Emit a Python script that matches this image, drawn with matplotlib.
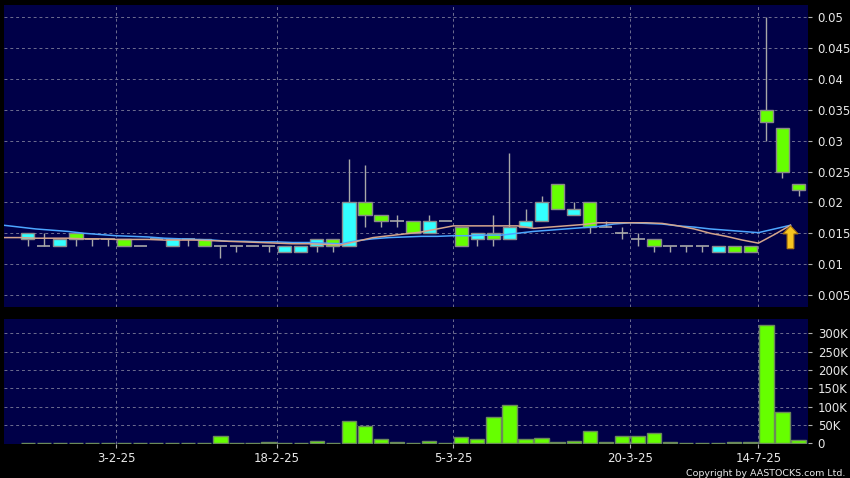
import matplotlib
matplotlib.use("Agg")
import matplotlib.pyplot as plt
import numpy as np

# daily candles (price in HKD), index 0 = first visible day
opens = [0.014, 0.013, 0.013, 0.015, 0.014, 0.014, 0.014, 0.013, 0.014, 0.013,
         0.014, 0.014, 0.013, 0.013, 0.013, 0.013, 0.012, 0.012, 0.013, 0.014,
         0.013, 0.020, 0.018, 0.017, 0.017, 0.015, 0.017, 0.016, 0.014, 0.015,
         0.014, 0.016, 0.017, 0.023, 0.018, 0.020, 0.016, 0.015, 0.014, 0.014,
         0.013, 0.013, 0.013, 0.012, 0.013, 0.013, 0.035, 0.032, 0.023]
closes = [0.015, 0.013, 0.014, 0.014, 0.014, 0.014, 0.013, 0.013, 0.014, 0.014,
          0.014, 0.013, 0.013, 0.013, 0.013, 0.013, 0.013, 0.013, 0.014, 0.013,
          0.020, 0.018, 0.017, 0.017, 0.015, 0.017, 0.017, 0.013, 0.015, 0.014,
          0.016, 0.017, 0.020, 0.019, 0.019, 0.016, 0.016, 0.015, 0.014, 0.013,
          0.013, 0.013, 0.013, 0.013, 0.012, 0.012, 0.033, 0.025, 0.022]
highs = [0.015, 0.015, 0.014, 0.015, 0.014, 0.014, 0.014, 0.013, 0.014, 0.014,
         0.014, 0.014, 0.013, 0.013, 0.013, 0.013, 0.013, 0.013, 0.014, 0.014,
         0.027, 0.026, 0.018, 0.018, 0.017, 0.018, 0.017, 0.016, 0.015, 0.018,
         0.028, 0.019, 0.021, 0.023, 0.020, 0.020, 0.017, 0.016, 0.015, 0.014,
         0.013, 0.013, 0.013, 0.013, 0.013, 0.013, 0.050, 0.032, 0.023]
lows = [0.013, 0.013, 0.013, 0.013, 0.013, 0.013, 0.013, 0.013, 0.014, 0.013,
        0.013, 0.013, 0.011, 0.012, 0.013, 0.012, 0.012, 0.012, 0.012, 0.012,
        0.013, 0.016, 0.016, 0.016, 0.015, 0.015, 0.017, 0.013, 0.013, 0.013,
        0.014, 0.016, 0.017, 0.019, 0.018, 0.015, 0.016, 0.014, 0.013, 0.012,
        0.012, 0.012, 0.012, 0.012, 0.012, 0.012, 0.030, 0.024, 0.021]
volumes = [1000, 1000, 1000, 1000, 500, 500, 1000, 500, 0, 1000,
           1000, 1000, 20000, 1000, 500, 3000, 1000, 500, 6000, 1000,
           61000, 47000, 11000, 3000, 2000, 6000, 0, 18000, 11000, 72000,
           104000, 12500, 14500, 3000, 8000, 35000, 5000, 19000, 19000, 28000,
           5000, 1000, 1000, 2000, 3000, 5000, 323000, 84500, 9000]

# moving averages as drawn (one point per day boundary, starting two days before index 0)
ma_short = [0.0143, 0.0143, 0.0142, 0.0142, 0.0142, 0.0141, 0.0141, 0.0140, 0.0140, 0.0140,
            0.0139, 0.0139, 0.0139, 0.0138, 0.0137, 0.0136, 0.0135, 0.0134, 0.0133, 0.0133,
            0.0132, 0.0131, 0.0137, 0.0143, 0.0146, 0.0149, 0.0152, 0.0157, 0.0162, 0.0162,
            0.0162, 0.0162, 0.0162, 0.0158, 0.0160, 0.0162, 0.0164, 0.0167, 0.0167, 0.0167,
            0.0167, 0.0166, 0.0162, 0.0157, 0.0150, 0.0145, 0.0139, 0.0134, 0.0148, 0.0163]
ma_long = [0.0163, 0.0160, 0.0157, 0.0155, 0.0153, 0.0150, 0.0148, 0.0146, 0.0145, 0.0144,
           0.0142, 0.0141, 0.0140, 0.0139, 0.0137, 0.0137, 0.0136, 0.0136, 0.0135, 0.0135,
           0.0134, 0.0133, 0.0138, 0.0141, 0.0143, 0.0144, 0.0145, 0.0145, 0.0146, 0.0146,
           0.0147, 0.0147, 0.0150, 0.0153, 0.0155, 0.0157, 0.0159, 0.0161, 0.0165, 0.0167,
           0.0166, 0.0165, 0.0162, 0.0160, 0.0157, 0.0155, 0.0153, 0.0151, 0.0157, 0.0163]

date_index = [6, 16, 27, 38, 46]
date_labels = ["3-2-25", "18-2-25", "5-3-25", "20-3-25", "14-7-25"]

price_ticks = [0.005, 0.01, 0.015, 0.02, 0.025, 0.03, 0.035, 0.04, 0.045, 0.05]
price_labels = ["0.005", "0.01", "0.015", "0.02", "0.025", "0.03", "0.035", "0.04", "0.045", "0.05"]
vol_ticks = [0, 50000, 100000, 150000, 200000, 250000, 300000]
vol_labels = ["0", "50K", "100K", "150K", "200K", "250K", "300K"]

# colours
BG = "#000000"
PANEL = "#000048"
UP = "#33FFFF"
DOWN = "#66FF00"
EDGE = "#8a8a8a"
GRID = "#6e6e90"
TXT = "#e8e8e8"

x = np.arange(len(opens))
o = np.array(opens)
c = np.array(closes)

fig = plt.figure(figsize=(8.5, 4.78), dpi=100, facecolor=BG)
ax = fig.add_axes([4 / 850, 1 - 306.7 / 478, 804 / 850, 301.7 / 478])
axv = fig.add_axes([4 / 850, 1 - 444 / 478, 804 / 850, 124.7 / 478])

for a in (ax, axv):
    a.set_facecolor(PANEL)
    for s in a.spines.values():
        s.set_visible(False)
    a.set_xlim(-1.476, 48.59)
    for d in date_index:
        a.axvline(d - 0.5, color=GRID, lw=0.7, ls=(0, (3, 3)), zorder=0)
    a.yaxis.tick_right()
    a.tick_params(axis="y", colors="#b0b0b0", labelcolor=TXT, length=3, width=0.8,
                  pad=4, labelsize=8.5)

# price panel
ax.set_ylim(0.0031, 0.05199)
for p in price_ticks:
    ax.axhline(p, color=GRID, lw=0.7, ls=(0, (3, 3)), zorder=0)
ax.set_yticks(price_ticks)
ax.set_yticklabels(price_labels)
ax.set_xticks([])

# wicks
ax.vlines(x, lows, highs, color="#a8a8a8", lw=1, zorder=2)
# bodies
body = c != o
colors = np.where(c > o, UP, DOWN)
ax.bar(x[body], np.abs(c - o)[body], bottom=np.minimum(o, c)[body], width=0.83,
       color=colors[body], edgecolor=EDGE, linewidth=1, zorder=3)
# doji days
doji = ~body
ax.hlines(o[doji], x[doji] - 0.41, x[doji] + 0.41, color="#a8a8a8", lw=1.2, zorder=3)

# moving averages
ma_x = np.arange(len(ma_short)) - 1.5
ax.plot(ma_x, ma_long, color="#4da6ff", lw=1.1, zorder=4)
ax.plot(ma_x, ma_short, color="#d4a58c", lw=1.1, zorder=4)

# yellow marker arrow on the latest point
arrow_x = ma_x[-1]
ax.arrow(arrow_x, 0.0125, 0, 0.0024, width=0.42, head_width=0.95, head_length=0.0013,
         length_includes_head=False, fc="#f7c520", ec="#b07a10", lw=0.8, zorder=5)

# volume panel
axv.set_ylim(-1500, 338000)
for v in vol_ticks[1:]:
    axv.axhline(v, color=GRID, lw=0.7, ls=(0, (3, 3)), zorder=0)
axv.bar(x, volumes, width=0.89, color=DOWN, edgecolor="#6b8a5a", linewidth=1, zorder=3)
axv.set_yticks(vol_ticks)
axv.set_yticklabels(vol_labels)
axv.set_xticks([d - 0.5 for d in date_index])
axv.set_xticklabels(date_labels)
axv.tick_params(axis="x", colors="#b0b0b0", labelcolor=TXT, length=3, width=0.8,
                pad=3, labelsize=8.5)

fig.text(0.994, 0.0, "Copyright by AASTOCKS.com Ltd.", color=TXT, fontsize=6.8,
         ha="right", va="bottom")

fig.savefig("out.png", dpi=100, facecolor=BG)
